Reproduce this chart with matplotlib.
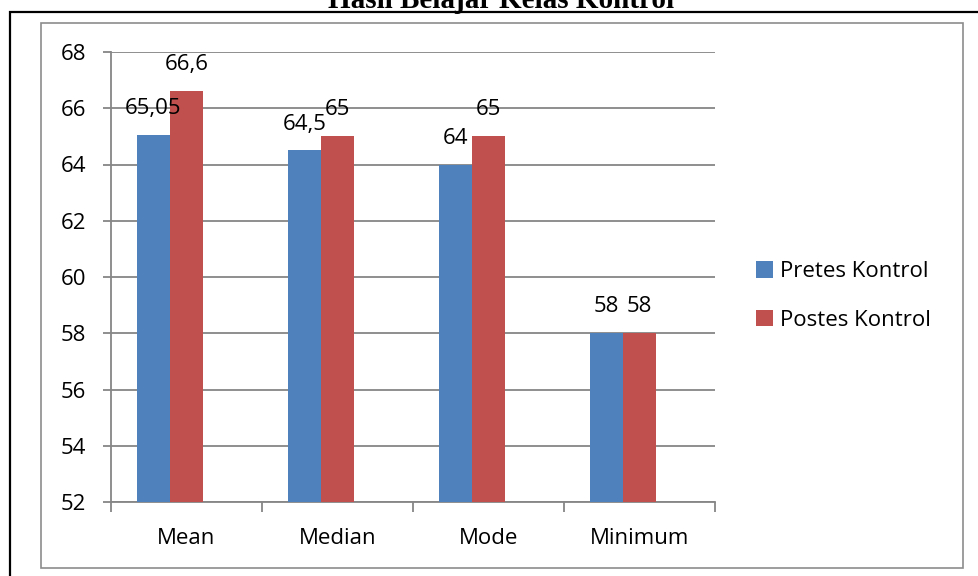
import matplotlib.pyplot as plt
import matplotlib.patches as mpatches
import numpy as np

categories = ['Mean', 'Median', 'Mode', 'Minimum']
pretes = [65.05, 64.5, 64, 58]
postes = [66.6, 65, 65, 58]
pretes_labels = ['65,05', '64,5', '64', '58']
postes_labels = ['66,6', '65', '65', '58']
series_names = ['Pretes Kontrol', 'Postes Kontrol']
yticks = [52, 54, 56, 58, 60, 62, 64, 66, 68]

blue = '#4F81BD'
red = '#C0504D'
grid_col = '#868686'
font = 'Open Sans'
fs = 16

fig = plt.figure(figsize=(9.79, 5.76), dpi=100)
W, H = 979, 576

# frames around the chart
fig.patches.append(mpatches.Rectangle((10 / W, -0.05), 1.2, 1 - 12 / H + 0.05,
                                      transform=fig.transFigure, fill=False,
                                      edgecolor='black', linewidth=1.6))
fig.patches.append(mpatches.Rectangle((41 / W, 1 - 568 / H), (963 - 41) / W, (568 - 23) / H,
                                      transform=fig.transFigure, fill=False,
                                      edgecolor='#8c8c8c', linewidth=1.2))
fig.text(501 / W, 1 - 8 / H, 'Hasil Belajar Kelas Kontrol', ha='center', va='baseline',
         family='Liberation Serif', fontweight='bold', fontsize=21)

ax = fig.add_axes([111 / W, 1 - 502 / H, (715 - 111) / W, (502 - 52) / H])
x = np.arange(len(categories)) + 0.5
w = 0.22
# bar pair sits half a bar left of the category centre (third empty slot)
b1 = ax.bar(x - w, np.array(pretes) - 52, w, bottom=52, color=blue, zorder=3)
b2 = ax.bar(x, np.array(postes) - 52, w, bottom=52, color=red, zorder=3)

for xi, v, s in zip(x - w, pretes, pretes_labels):
    ax.annotate(s, (xi, v), xytext=(0, 19), textcoords='offset points', ha='center',
                va='center', fontsize=fs, family=font, zorder=5)
for xi, v, s in zip(x, postes, postes_labels):
    ax.annotate(s, (xi, v), xytext=(0, 19), textcoords='offset points', ha='center',
                va='center', fontsize=fs, family=font, zorder=5)

ax.set_xlim(0, len(categories))
ax.set_ylim(52, 68)
ax.set_yticks(yticks)
ax.set_yticklabels([str(t) for t in yticks], family=font, fontsize=fs)
ax.yaxis.grid(True, color=grid_col, linewidth=1.3, zorder=0)
ax.set_axisbelow(True)

# category ticks sit on the boundaries, labels in the middle
ax.set_xticks(np.arange(len(categories) + 1))
ax.set_xticklabels([])
ax.set_xticks(x, minor=True)
ax.set_xticklabels(categories, minor=True, family=font, fontsize=fs)
ax.tick_params(axis='x', which='major', length=7, color=grid_col, width=1.3, direction='out')
ax.tick_params(axis='x', which='minor', length=0, pad=19)
ax.tick_params(axis='y', length=6, color=grid_col, width=1.3, pad=12)

for side in ['top', 'right']:
    ax.spines[side].set_visible(False)
for side in ['left', 'bottom']:
    ax.spines[side].set_color(grid_col)
    ax.spines[side].set_linewidth(1.3)

fig.legend([b1, b2], series_names, loc='center left',
           bbox_to_anchor=(736 / W, 1 - 296 / H), frameon=False,
           prop={'family': font, 'size': fs}, handlelength=0.75, handleheight=0.75,
           handletextpad=0.35, labelspacing=1.25)

fig.savefig('out.png', dpi=100)
